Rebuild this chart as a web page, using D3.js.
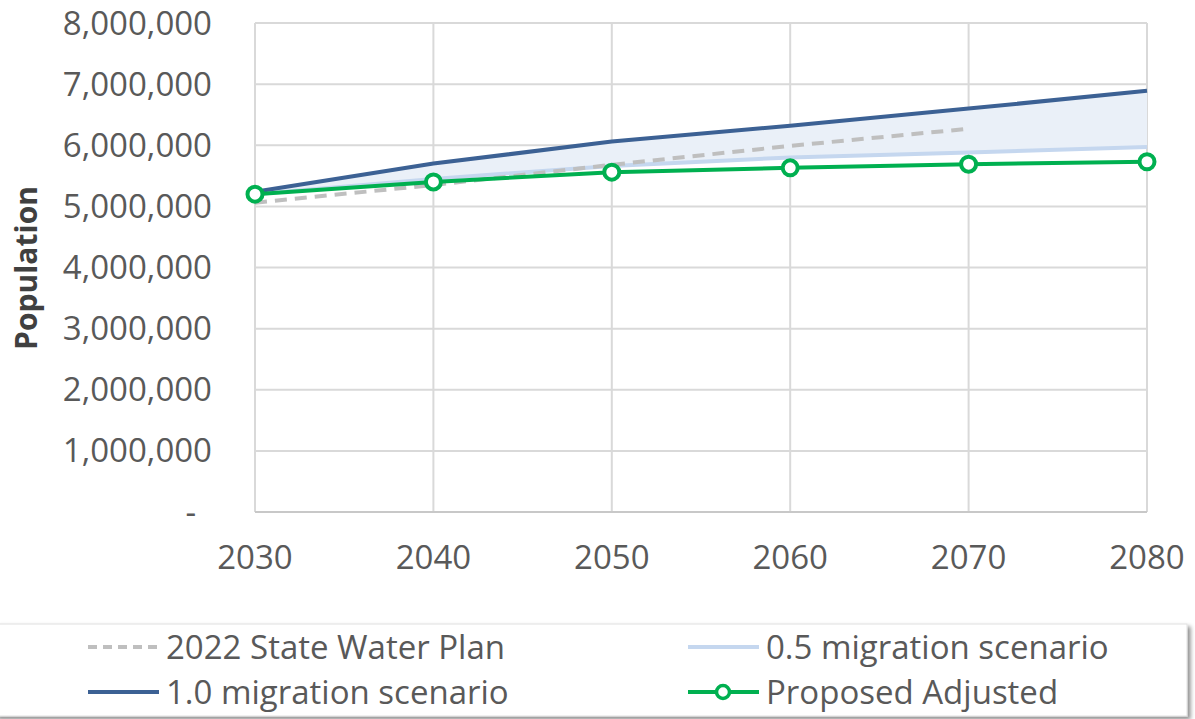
<!DOCTYPE html>
<html><head><meta charset="utf-8">
<script src="https://cdn.jsdelivr.net/npm/d3@7"></script>
<style>
html,body{margin:0;padding:0;background:#fff;}
svg text{font-family:"Open Sans",sans-serif;fill:#595959;}
</style></head>
<body>
<svg id="c" width="1195" height="719"></svg>
<script>
const years = [2030, 2040, 2050, 2060, 2070, 2080];
const swp2022 = [5060000, 5350000, 5680000, 5990000, 6270000, null];
const mig05 = [5200000, 5450000, 5660000, 5800000, 5880000, 5970000];
const mig10 = [5240000, 5700000, 6060000, 6320000, 6600000, 6890000];
const proposed = [5200000, 5400000, 5560000, 5630000, 5690000, 5730000];
const yTicks = [0, 1000000, 2000000, 3000000, 4000000, 5000000, 6000000, 7000000, 8000000];
const seriesNames = ["2022 State Water Plan", "0.5 migration scenario", "1.0 migration scenario", "Proposed Adjusted"];

const svg = d3.select("#c");
const L = 255, R = 1147, T = 23, B = 512;
const x = d3.scalePoint().domain(years).range([L, R]);
const y = d3.scaleLinear().domain([0, 8000000]).range([B, T]);

const colors = {swp:"#bfbfbf", m05:"#c5d7ef", m10:"#3c6194", prop:"#00b050", fill:"#eaf0f8"};

// gridlines
svg.append("g").selectAll("line.h").data(yTicks.slice(1)).join("line")
  .attr("x1", L).attr("x2", R).attr("y1", d=>y(d)).attr("y2", d=>y(d))
  .attr("stroke", "#d9d9d9").attr("stroke-width", 2);
svg.append("g").selectAll("line.v").data(years).join("line")
  .attr("x1", d=>x(d)).attr("x2", d=>x(d)).attr("y1", T).attr("y2", B)
  .attr("stroke", "#d9d9d9").attr("stroke-width", 2);
svg.append("line").attr("x1", L).attr("x2", R).attr("y1", B).attr("y2", B)
  .attr("stroke", "#c8c8c8").attr("stroke-width", 2);

// y labels
const fmt = d3.format(",");
svg.append("g").selectAll("text").data(yTicks).join("text")
  .attr("x", d => d === 0 ? 196 : 212).attr("y", d=>y(d)).attr("dy", "0.35em")
  .attr("text-anchor", "end").attr("font-size", 33)
  .text(d => d === 0 ? "-" : fmt(d));
// x labels
svg.append("g").selectAll("text").data(years).join("text")
  .attr("x", d=>x(d)).attr("y", 557).attr("dy", "0.35em")
  .attr("text-anchor", "middle").attr("font-size", 33).text(d=>d);
// y title
svg.append("text").attr("transform", "translate(37,268) rotate(-90)")
  .attr("text-anchor", "middle").attr("font-size", 30).attr("font-weight", "bold")
  .style("fill", "#404040").text("Population");

// band fill
const band = years.map((yr,i)=>({yr, lo: mig05[i], hi: mig10[i]}));
svg.append("path").datum(band)
  .attr("d", d3.area().x(d=>x(d.yr)).y0(d=>y(d.lo)).y1(d=>y(d.hi)))
  .attr("fill", colors.fill);

const line = d3.line().defined(d=>d.v!=null).x(d=>x(d.yr)).y(d=>y(d.v));
const toPts = arr => years.map((yr,i)=>({yr, v: arr[i]}));
svg.append("path").datum(toPts(mig05)).attr("d", line).attr("fill","none")
  .attr("stroke", colors.m05).attr("stroke-width", 4);
svg.append("path").datum(toPts(swp2022)).attr("d", line).attr("fill","none")
  .attr("stroke", colors.swp).attr("stroke-width", 4).attr("stroke-dasharray", "12,8");
svg.append("path").datum(toPts(mig10)).attr("d", line).attr("fill","none")
  .attr("stroke", colors.m10).attr("stroke-width", 4);
svg.append("path").datum(toPts(proposed)).attr("d", line).attr("fill","none")
  .attr("stroke", colors.prop).attr("stroke-width", 4);
svg.append("g").selectAll("circle").data(toPts(proposed)).join("circle")
  .attr("cx", d=>x(d.yr)).attr("cy", d=>y(d.v)).attr("r", 7.5)
  .attr("fill", "#fff").attr("stroke", colors.prop).attr("stroke-width", 4);

// legend
const defs = svg.append("defs");
const f = defs.append("filter").attr("id","sh").attr("x","-5%").attr("y","-20%").attr("width","115%").attr("height","150%");
f.append("feDropShadow").attr("dx",3).attr("dy",3).attr("stdDeviation",2).attr("flood-color","#000").attr("flood-opacity",0.45);
svg.append("rect").attr("x", -5).attr("y", 624).attr("width", 1192).attr("height", 92)
  .attr("fill", "#fff").attr("stroke", "#e0e0e0").attr("stroke-width", 1).attr("filter","url(#sh)");

const legendItems = [
  {name: seriesNames[0], col: 0, row: 0, color: colors.swp, dash: "9,6", marker: false},
  {name: seriesNames[1], col: 1, row: 0, color: colors.m05, dash: null, marker: false},
  {name: seriesNames[2], col: 0, row: 1, color: colors.m10, dash: null, marker: false},
  {name: seriesNames[3], col: 1, row: 1, color: colors.prop, dash: null, marker: true}
];
const lg = svg.append("g").selectAll("g").data(legendItems).join("g")
  .attr("transform", d => `translate(${d.col ? 688 : 88},${d.row ? 692 : 647})`);
lg.append("line").attr("x1", 0).attr("x2", 71).attr("y1", 0).attr("y2", 0)
  .attr("stroke", d=>d.color).attr("stroke-width", 4)
  .attr("stroke-dasharray", d=>d.dash);
lg.filter(d=>d.marker).append("circle").attr("cx", 35).attr("cy", 0).attr("r", 6.5)
  .attr("fill", "#fff").attr("stroke", d=>d.color).attr("stroke-width", 3.5);
lg.append("text").attr("x", 78).attr("y", 0).attr("dy", "0.35em")
  .attr("font-size", 33).text(d=>d.name);
</script>
</body></html>
